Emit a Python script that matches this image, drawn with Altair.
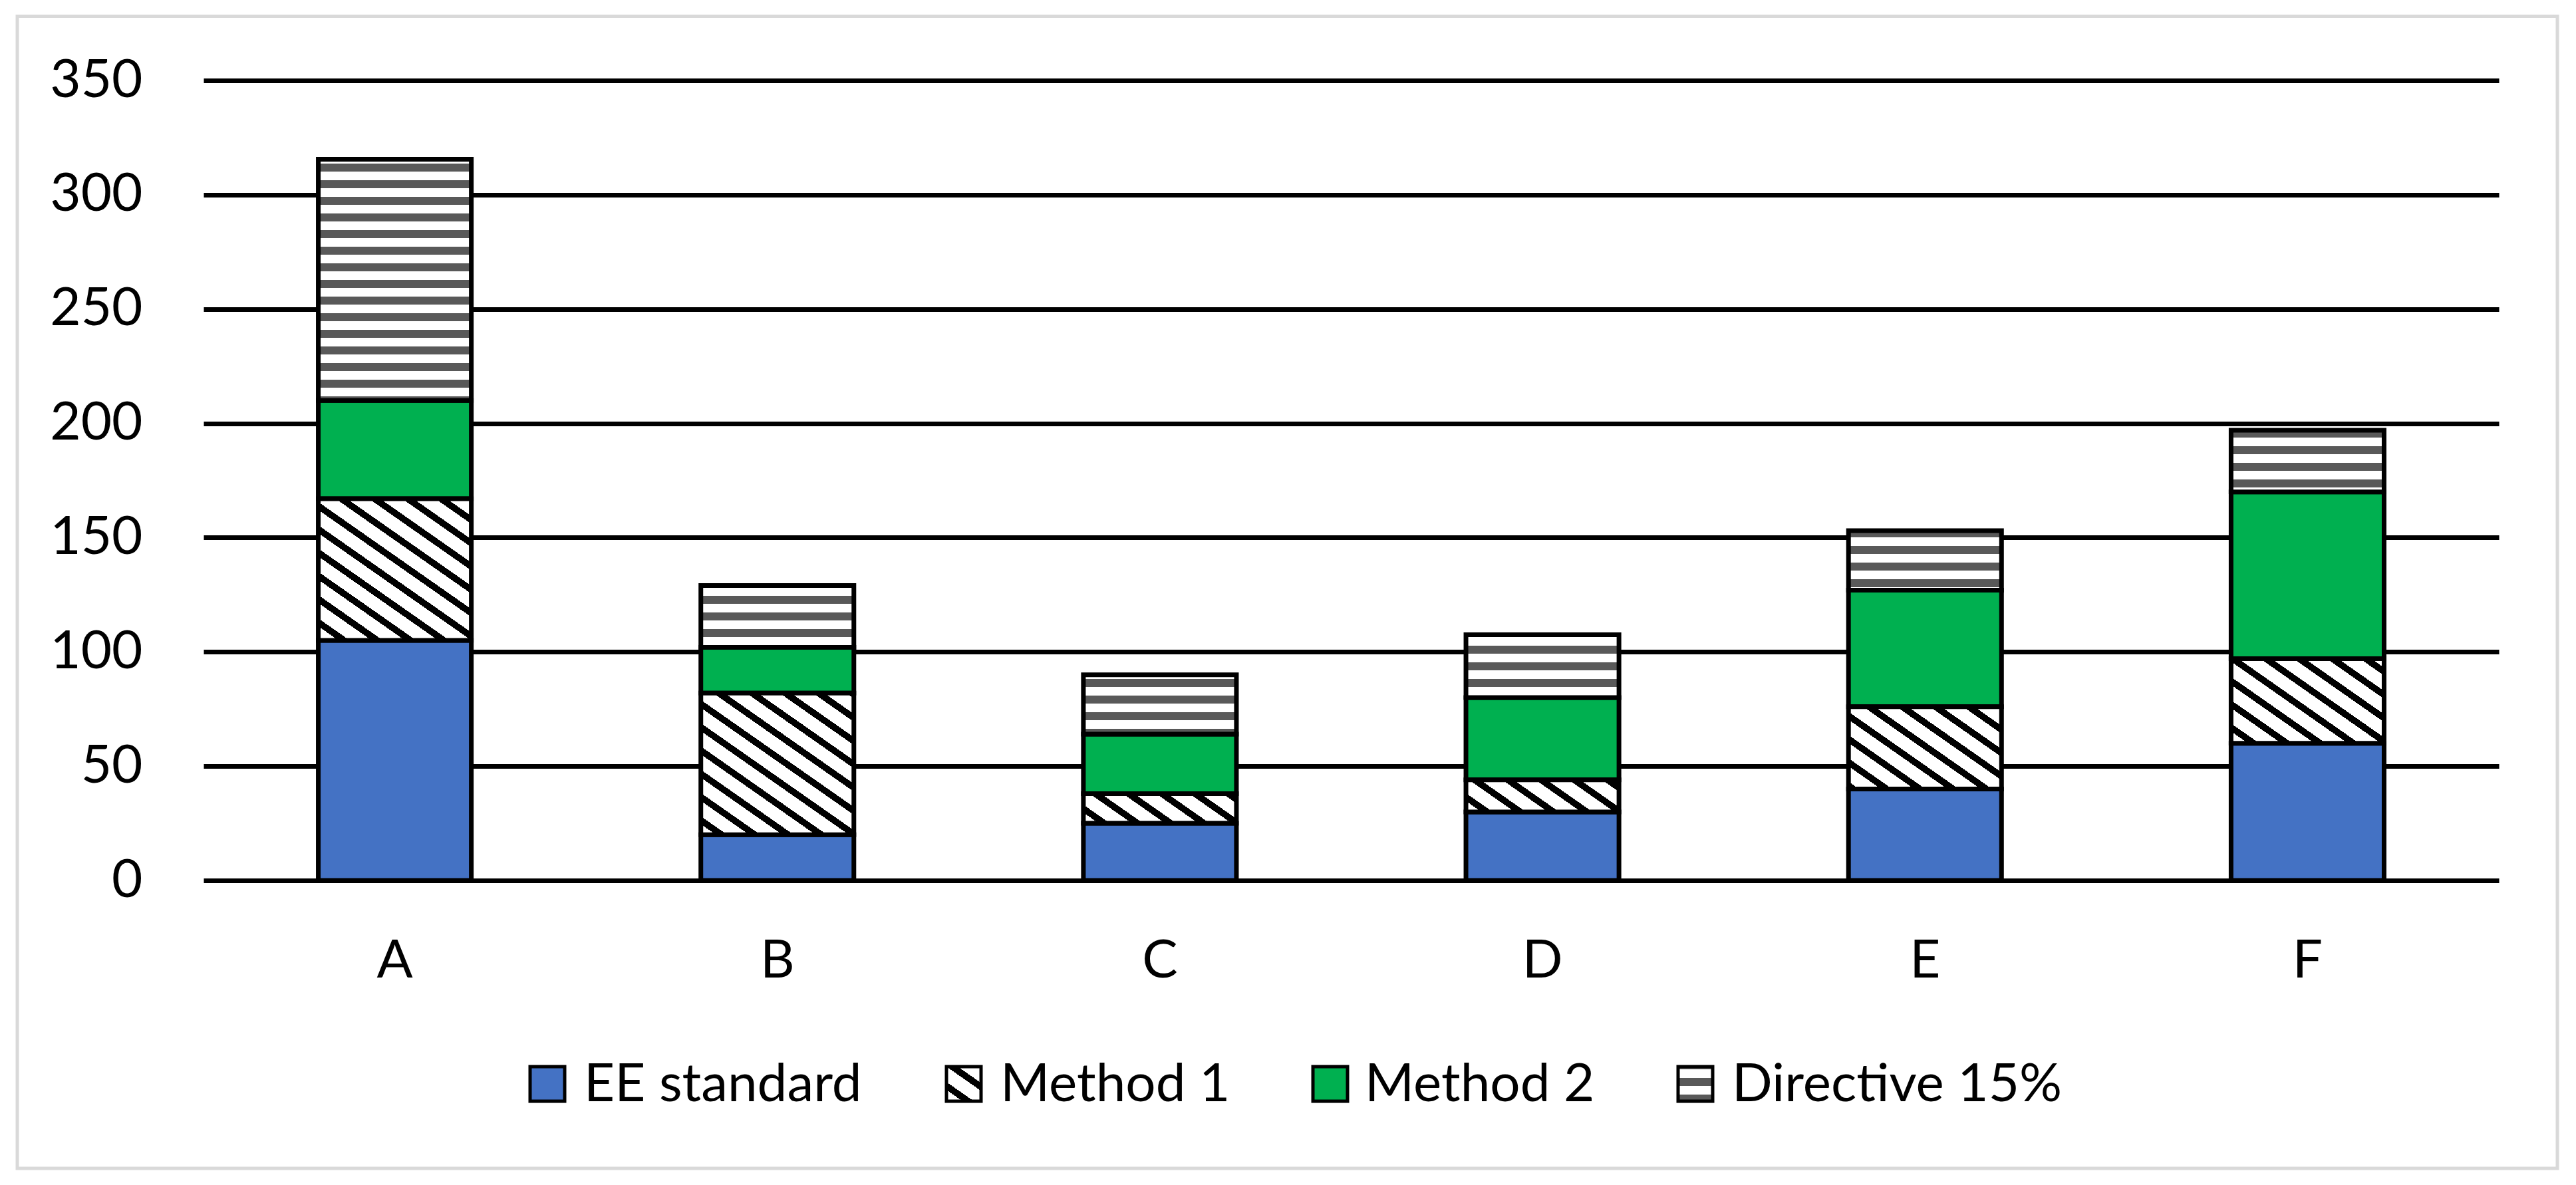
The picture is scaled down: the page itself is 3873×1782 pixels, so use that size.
import math
import altair as alt
import pandas as pd

# ---------------- data ----------------
categories = ["A", "B", "C", "D", "E", "F"]
series = ["EE standard", "Method 1", "Method 2", "Directive 15%"]
ee_standard = [105, 20, 25, 30, 40, 60]
method_1 = [62, 62, 13, 14, 36, 37]
method_2 = [43, 20, 26, 36, 51, 73]
directive_15 = [105.5, 27, 26, 27.5, 26, 27]
y_ticks = [0, 50, 100, 150, 200, 250, 300, 350]

values_by_series = [ee_standard, method_1, method_2, directive_15]
rows = []
for i, c in enumerate(categories):
    for j, s in enumerate(series):
        rows.append({"category": c, "series": s, "order": j, "value": values_by_series[j][i]})
df = pd.DataFrame(rows)

# ---------------- layout / style ----------------
W, H = 3451, 1203
Y_MAX = 350
PAD_INNER, PAD_OUTER = 0.6, 0.3
FONT = "Lato"
FS = 80
BLUE, GREEN, GRAY = "#4472C4", "#00B050", "#595959"
STEP = W / (len(categories) - PAD_INNER + 2 * PAD_OUTER)
BAR_W = STEP * (1 - PAD_INNER)
PX = H / Y_MAX


def stripe_stops(length, period, dark_px, phase, dark, light):
    stops = []

    def seg(a, b, col):
        a2, b2 = max(a, 0.0), min(b, length)
        if b2 > a2:
            stops.append({"offset": round(a2 / length, 5), "color": col})
            stops.append({"offset": round(b2 / length, 5), "color": col})

    p = -(phase % period)
    while p < length:
        seg(p, p + dark_px, dark)
        seg(p + dark_px, p + period, light)
        p += period
    return stops


def hstripes(h, y_top):
    return {"gradient": "linear", "x1": 0, "y1": 0, "x2": 0, "y2": 1,
            "stops": stripe_stops(h, 25, 12, y_top, GRAY, "white")}


K = 0.7  # slope of the downward diagonal hatch


def dstripes(w, h, x_left, y_bottom):
    q = (h / w) / K
    L = (1 + q) / (1 + q * q)
    length = w + h / K
    phase = x_left - y_bottom / K
    return {"gradient": "linear", "x1": 0, "y1": 1, "x2": round(L, 5), "y2": round(1 - L * q, 5),
            "stops": stripe_stops(length, 50, 17, phase, "black", "white")}


# ---------------- chart ----------------
base = alt.Chart(df).transform_stack(
    stack="value", groupby=["category"], as_=["y0", "y1"],
    sort=[alt.SortField("order", order="ascending")]
)

x_enc = alt.X(
    "category:N",
    scale=alt.Scale(domain=categories, paddingInner=PAD_INNER, paddingOuter=PAD_OUTER),
    axis=alt.Axis(title="", labelAngle=0, ticks=False, domain=False, grid=False,
                  labelFont=FONT, labelFontSize=FS, labelColor="black", labelPadding=82),
)
y_enc = alt.Y(
    "y0:Q",
    scale=alt.Scale(domain=[0, Y_MAX], nice=False, zero=True),
    axis=alt.Axis(title="", values=y_ticks, ticks=False, domain=False, grid=True,
                  gridColor="black", gridWidth=7, gridOpacity=1,
                  labelFont=FONT, labelFontSize=FS, labelColor="black", labelPadding=92),
)
y2_enc = alt.Y2("y1:Q")

layers = []

frame = alt.Chart(pd.DataFrame({"k": [0]})).mark_rect(
    fillOpacity=0, stroke="#d9d9d9", strokeWidth=5
).encode(x=alt.value(-280), x2=alt.value(3539), y=alt.value(-96.5), y2=alt.value(1636))
layers.append(frame)

solid = base.transform_filter(
    alt.FieldOneOfPredicate(field="series", oneOf=[series[0], series[2]])
).mark_bar(stroke="black", strokeWidth=7).encode(
    x=x_enc, y=y_enc, y2=y2_enc,
    fill=alt.Fill("series:N", scale=alt.Scale(domain=[series[0], series[2]], range=[BLUE, GREEN]), legend=None),
)
layers.append(solid)

for i, c in enumerate(categories):
    x_left = STEP * (PAD_OUTER + i)
    cum = 0.0
    for j, s in enumerate(series):
        v = values_by_series[j][i]
        y_bottom = (Y_MAX - cum) * PX
        y_top = (Y_MAX - cum - v) * PX
        cum += v
        if j == 1:
            grad = dstripes(BAR_W, v * PX, x_left, y_bottom)
        elif j == 3:
            grad = hstripes(v * PX, y_top)
        else:
            continue
        lay = base.transform_filter(
            (alt.datum.category == c) & (alt.datum.series == s)
        ).mark_bar(fill=grad, stroke="black", strokeWidth=7).encode(x=x_enc, y=y_enc, y2=y2_enc)
        layers.append(lay)

# ---------------- manual legend ----------------
sym_x = [489, 1115, 1666, 2215]
txt_x = [572, 1198, 1746, 2298]
SYM = 52
sym_y0, sym_y1 = 1483, 1535
legend_fills = [
    BLUE,
    dstripes(SYM, SYM, 0, SYM),
    GREEN,
    hstripes(SYM, 8),
]
for j, s in enumerate(series):
    d = pd.DataFrame({"series": [s]})
    sym = alt.Chart(d).mark_rect(fill=legend_fills[j], stroke="black", strokeWidth=5).encode(
        x=alt.value(sym_x[j] + 2), x2=alt.value(sym_x[j] + 2 + SYM),
        y=alt.value(sym_y0), y2=alt.value(sym_y1),
    )
    txt = alt.Chart(d).mark_text(
        align="left", baseline="alphabetic", font=FONT, fontSize=FS, color="black"
    ).encode(x=alt.value(txt_x[j]), y=alt.value(1535), text="series:N")
    layers += [sym, txt]

chart = alt.layer(*layers).properties(
    width=W, height=H,
    padding={"left": 298, "top": 113, "right": 100, "bottom": 440},
    autosize=alt.AutoSizeParams(type="none"),
    background="white",
).configure_view(strokeWidth=0)

chart.save("out.html", embed_options={"renderer": "svg", "actions": False})
